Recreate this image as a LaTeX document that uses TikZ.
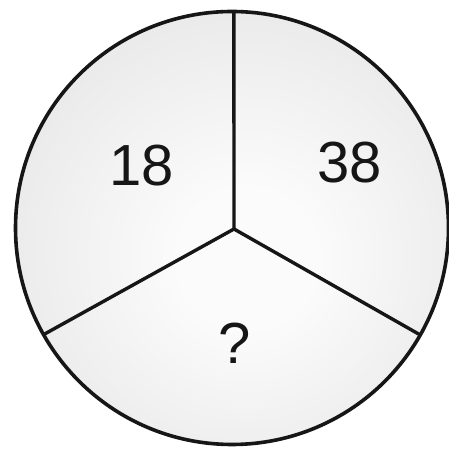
\documentclass[tikz,border=0pt]{standalone}
\usepackage{fontspec}
\setmainfont{Liberation Sans}
\usepackage{xcolor}
\definecolor{ink}{HTML}{161616}
\definecolor{rim}{HTML}{D6D6D6}
\definecolor{glow}{HTML}{FBFBFB}
\usepackage{tikz}
\usetikzlibrary{positioning,calc}
\pgfdeclareradialshading{discglow}{\pgfpoint{2bp}{-4bp}}{%
  color(0bp)=(glow); color(8bp)=(glow); color(52bp)=(rim); color(70bp)=(rim)}
\tikzset{
  disc/.style   ={draw=ink,line width=3.6pt,shading=discglow},
  spoke/.style  ={draw=ink,line width=3.4pt},
  num/.style    ={font=\fontsize{58}{60}\selectfont,text=ink,inner sep=0pt},
}

\begin{document}
\begin{tikzpicture}[x=1pt,y=1pt]
\useasboundingbox (0,0) rectangle (449,452);
\fill[white] (0,0) rectangle (449,452);
\node[disc,circle,minimum size=433pt,inner sep=0pt] (c) at (232,224) {};
\coordinate (o) at (234,223);
\coordinate (top) at ($(c.center)+(89.5:216.5)$);
\coordinate (lft) at ($(c.center)+(209.5:216.5)$);
\coordinate (rgt) at ($(c.center)+(-29.6:216.5)$);
\draw[spoke] (o) -- (top);
\draw[spoke] (o) -- (lft);
\draw[spoke] (o) -- (rgt);
\node[num] (a) at (142,286) {18};
\node[num] (b) at (350,289) {38};
\node[num] (q) at (235,109) {?};
\end{tikzpicture}
\end{document}
